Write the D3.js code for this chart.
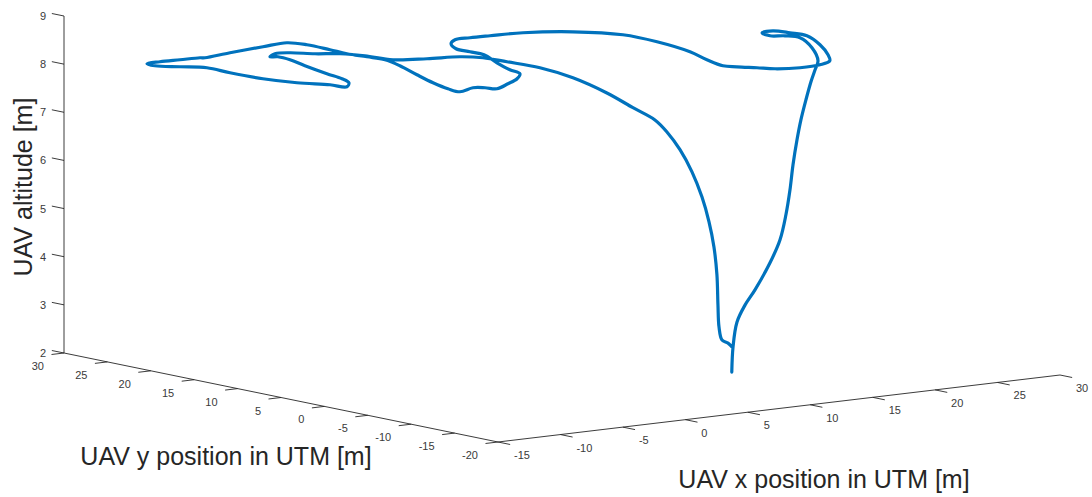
<!DOCTYPE html>
<html>
<head>
<meta charset="utf-8">
<script src="https://cdn.jsdelivr.net/npm/d3@7"></script>
<style>
  body { margin: 0; background: #fff; }
  svg { display: block; }
  text { font-family: "Liberation Sans", Arial, sans-serif; }
</style>
</head>
<body>
<div id="chart"></div>
<script>
// axis ticks
var xTicks = [-15, -10, -5, 0, 5, 10, 15, 20, 25, 30];
var yTicks = [-20, -15, -10, -5, 0, 5, 10, 15, 20, 25, 30];
var zTicks = [2, 3, 4, 5, 6, 7, 8, 9];

// flight track (UTM x, UTM y, altitude)
var trackX = [6.5, 6.6, 7.67, 9.07, 10.63, 12.59, 14.15, 15.38, 16.46, 17.46, 18.54, 19.61, 20.77, 21.93, 23.01, 24.01,
  26.91, 28.78, 28.51, 27.75, 28.09, 29.13, 29.5, 29.62, 28.06, 26.0, 24.6, 23.12, 21.37, 19.86, 19.19, 18.42, 17.96,
  18.63, 19.75, 20.55, 20.55, 18.76, 15.99, 13.58, 12.07, 10.82, 9.63, 8.65, 8.61, 8.58, 7.26, 6.19, 5.71, 4.33, 2.64,
  0.84, 0.49, -0.12, -1.77, -1.64, -0.91, 0.25, 1.61, 2.34, 2.16, 1.89, 2.02, 2.09, 1.57, -0.63, -3.78, -6.28, -6.54,
  -8.04, -9.55, -10.7, -10.79, -9.77, -8.65, -8.72, -8.53, -7.8, -6.62, -6.26, -5.17, -4.53, -4.06, -3.2, -2.47, -2.34,
  -2.75, -1.75, -0.75, 0.27, 1.54, 2.31, 2.74, 4.71, 6.87, 7.79, 8.01, 8.2,
  9.78, 11.43, 12.45, 13.14, 13.04, 13.02, 12.91, 12.65, 12.14, 11.47, 10.64, 9.66, 8.68, 7.85, 7.27, 6.59];
var trackY = [-16, -16, -14.91, -13.82, -12.73, -11.64, -10.55, -9.46, -8.37, -7.28, -6.19, -5.1, -4.01, -2.92, -1.83, -0.74,
  4.13, 8.19, 9.54, 10.17, 11.58, 11.82, 10.39, 8.61, 4.86, 0.97, -1.25, -2.25, -2.46, -1.76, -0.64, 0.56, 1.51,
  4.32, 7.88, 12.83, 16.76, 19.94, 21.71, 22.04, 22.18, 22.1, 20.85, 18.86, 17.2, 15.54, 12.15, 9.12, 7.27, 5.62, 4.23,
  2.92, 3.78, 4.29, 3.42, 4.99, 7.76, 11.28, 15.2, 17.97, 19.79, 21.71, 23.85, 26.6, 28.16, 27.75, 27.02, 26.3, 26.51,
  26.65, 26.79, 26.63, 25.58, 24.16, 22.67, 19.91, 16.39, 13.52, 11.41, 9.98, 11.32, 13.04, 15.45, 19.22, 21.99, 23.56,
  23.9, 24.76, 24.48, 23.06, 22.0, 20.23, 17.63, 16.54, 15.85, 14.52, 12.08, 8.55,
  7.02, 5.48, 3.95, 2.41, 0.88, -0.65, -2.19, -3.72, -5.26, -6.79, -8.33, -9.86, -11.39, -12.93, -14.46, -16];
var trackZ = [2.64, 3.16, 3.6, 3.87, 4.1, 4.56, 4.95, 5.39, 5.83, 6.28, 6.73, 7.07, 7.41, 7.71, 7.88, 8.0,
  8, 8, 8, 8, 8, 8, 8, 8, 8, 8, 8, 8, 8, 8, 8, 8, 8,
  8, 8, 8, 8, 8, 8, 8, 8, 8, 8, 8, 8, 8, 8, 8, 8, 8, 8,
  8, 8, 8, 8, 8, 8, 8, 8, 8, 8, 8, 8, 8, 8, 8, 8, 8, 8,
  8, 8, 8, 8, 8, 8, 8, 8, 8, 8, 8, 8, 8, 8, 8, 8, 8,
  8, 8, 8, 8, 8, 8, 8, 8, 8, 8, 8, 8,
  7.8, 7.49, 7.21, 6.99, 6.8, 6.49, 6.09, 5.63, 5.19, 4.75, 4.25, 3.71, 3.34, 3.15, 3.16, 3.14];

function main() {
  var width = 1092, height = 497;

  var svg = d3.select("#chart")
    .append("svg")
    .attr("width", width)
    .attr("height", height);

  // oblique projection of the 3d box: corner (xmin, ymin, zmin) sits at x0,y0
  var x0 = 498, y0 = 442;
  var xH = d3.scaleLinear().domain([-15, 30]).range([0, 562]);
  var xV = d3.scaleLinear().domain([-15, 30]).range([0, -67]);
  var yH = d3.scaleLinear().domain([-20, 30]).range([0, -434]);
  var yV = d3.scaleLinear().domain([-20, 30]).range([0, -89]);
  var zV = d3.scaleLinear().domain([2, 9]).range([0, -337]);

  function proj(x, y, z) {
    return [x0 + xH(x) + yH(y), y0 + xV(x) + yV(y) + zV(z)];
  }

  var axisColor = "#262626", labelColor = "#3a3a3a";
  var g = svg.append("g");

  function seg(a, b, w) {
    g.append("line")
      .attr("x1", a[0]).attr("y1", a[1])
      .attr("x2", b[0]).attr("y2", b[1])
      .attr("stroke", axisColor)
      .attr("stroke-width", w);
  }

  // axis lines
  seg(proj(-15, -20, 2), proj(30, -20, 2), 0.9);
  seg(proj(-15, -20, 2), proj(-15, 30, 2), 0.9);
  seg(proj(-15, 30, 2), proj(-15, 30, 9), 0.9);

  // x ticks
  xTicks.forEach(function (v) {
    var p = proj(v, -20, 2);
    seg(p, proj(v, -21.4, 2), 0.9);
    g.append("text")
      .attr("x", p[0] + 16).attr("y", p[1] + 13)
      .attr("text-anchor", "start")
      .attr("dominant-baseline", "central")
      .attr("font-size", 11)
      .attr("fill", labelColor)
      .text(v);
  });

  // y ticks
  yTicks.forEach(function (v) {
    var p = proj(-15, v, 2);
    seg(p, proj(-16, v, 2), 0.9);
    g.append("text")
      .attr("x", p[0] - 20).attr("y", p[1] + 13)
      .attr("text-anchor", "end")
      .attr("dominant-baseline", "central")
      .attr("font-size", 11)
      .attr("fill", labelColor)
      .text(v);
  });

  // z ticks
  zTicks.forEach(function (v) {
    var p = proj(-15, 30, v);
    seg(p, proj(-15, 31.4, v), 0.9);
    g.append("text")
      .attr("x", p[0] - 18).attr("y", p[1])
      .attr("text-anchor", "end")
      .attr("dominant-baseline", "central")
      .attr("font-size", 11)
      .attr("fill", labelColor)
      .text(v);
  });

  // axis titles
  svg.append("text")
    .attr("transform", "translate(23,187) rotate(-90)")
    .attr("text-anchor", "middle")
    .attr("dominant-baseline", "central")
    .attr("font-size", 25)
    .attr("fill", axisColor)
    .text("UAV altitude [m]");

  svg.append("text")
    .attr("x", 226).attr("y", 456)
    .attr("text-anchor", "middle")
    .attr("dominant-baseline", "central")
    .attr("font-size", 25)
    .attr("fill", axisColor)
    .text("UAV y position in UTM [m]");

  svg.append("text")
    .attr("x", 824).attr("y", 479)
    .attr("text-anchor", "middle")
    .attr("dominant-baseline", "central")
    .attr("font-size", 25)
    .attr("fill", axisColor)
    .text("UAV x position in UTM [m]");

  // flight path
  var pts = trackX.map(function (d, i) { return proj(d, trackY[i], trackZ[i]); });

  svg.append("path")
    .datum(pts)
    .attr("fill", "none")
    .attr("stroke", "#0072BD")
    .attr("stroke-width", 3.2)
    .attr("stroke-linejoin", "round")
    .attr("stroke-linecap", "round")
    .attr("d", d3.line()
      .x(function (d) { return d[0]; })
      .y(function (d) { return d[1]; })
      .curve(d3.curveCatmullRom.alpha(0.5)));
}

main();
</script>
</body>
</html>
